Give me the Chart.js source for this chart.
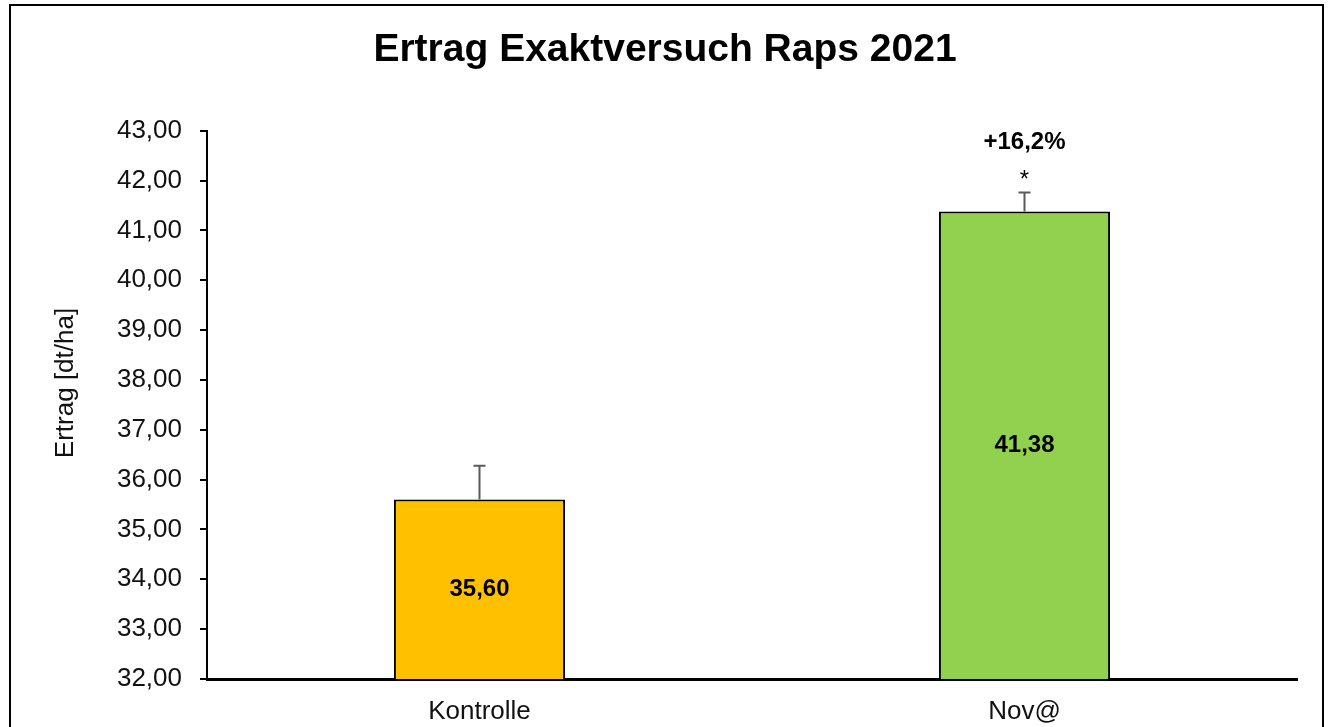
<!DOCTYPE html>
<html>
<head>
<meta charset="utf-8">
<title>Ertrag Exaktversuch Raps 2021</title>
<script src="https://cdn.jsdelivr.net/npm/chart.js@4/dist/chart.umd.min.js"></script>
<style>
  html, body { margin: 0; padding: 0; background: #fff; }
  #wrap { width: 1330px; height: 727px; }
</style>
</head>
<body>
<div id="wrap"><canvas id="chart" width="1330" height="727"></canvas></div>
<script>
// ===== Data =====
const categories = ['Kontrolle', 'Nov@'];
const yieldValues = [35.60, 41.38];
const errorValues = [0.68, 0.38];
const diffLabels = ['', '+16,2%'];
const sigLabels = ['', '*'];
const barColors = ['#FFC000', '#92D050'];
const yMin = 32;
const yMax = 43;

const FONT = '"Liberation Sans", Arial, sans-serif';
const fmt = v => v.toFixed(2).replace('.', ',');

// frame round the whole chart + y axis title
const framePlugin = {
  id: 'frame',
  beforeDraw(chart) {
    const ctx = chart.ctx;
    ctx.save();
    ctx.fillStyle = '#fff';
    ctx.fillRect(0, 0, chart.width, chart.height);
    ctx.strokeStyle = '#000';
    ctx.lineWidth = 2;
    ctx.strokeRect(10, 5, 1313, 800);
    ctx.restore();
  },
  afterDraw(chart) {
    const ctx = chart.ctx;
    ctx.save();
    ctx.translate(66, 383);
    ctx.rotate(-Math.PI / 2);
    ctx.font = '26px ' + FONT;
    ctx.fillStyle = '#111';
    ctx.textAlign = 'center';
    ctx.textBaseline = 'middle';
    ctx.fillText('Ertrag [dt/ha]', 0, 0);
    ctx.restore();
  }
};

// error bars (upper only), value labels and significance notes
const barExtras = {
  id: 'barExtras',
  afterDatasetsDraw(chart) {
    const ctx = chart.ctx;
    const yScale = chart.scales.y;
    const meta = chart.getDatasetMeta(0);
    const baseY = yScale.getPixelForValue(yMin);
    ctx.save();
    meta.data.forEach((bar, i) => {
      const barTop = yScale.getPixelForValue(yieldValues[i]);
      const topY = yScale.getPixelForValue(yieldValues[i] + errorValues[i]);
      // error bar
      ctx.strokeStyle = '#5a5a5a';
      ctx.lineWidth = 2;
      ctx.beginPath();
      ctx.moveTo(bar.x, barTop);
      ctx.lineTo(bar.x, topY);
      ctx.moveTo(bar.x - 6, topY);
      ctx.lineTo(bar.x + 6, topY);
      ctx.stroke();

      // value inside bar
      ctx.fillStyle = '#000';
      ctx.textAlign = 'center';
      ctx.textBaseline = 'middle';
      ctx.font = 'bold 24px ' + FONT;
      ctx.fillText(fmt(yieldValues[i]), bar.x, (barTop + baseY) / 2);

      // notes above
      if (sigLabels[i]) {
        ctx.font = '24px ' + FONT;
        ctx.fillText(sigLabels[i], bar.x, topY - 12);
      }
      if (diffLabels[i]) {
        ctx.font = 'bold 24px ' + FONT;
        ctx.fillText(diffLabels[i], bar.x, topY - 50);
      }
    });
    ctx.restore();
  }
};

new Chart(document.getElementById('chart'), {
  type: 'bar',
  data: {
    labels: categories,
    datasets: [{
      data: yieldValues,
      backgroundColor: barColors,
      borderColor: '#000',
      borderWidth: 2,
      borderSkipped: false,
      barPercentage: 0.314,
      categoryPercentage: 1
    }]
  },
  options: {
    responsive: false,
    animation: false,
    devicePixelRatio: 1,
    layout: { padding: { left: 33, right: 33, top: 0, bottom: 0 } },
    plugins: {
      legend: { display: false },
      tooltip: { enabled: false },
      title: {
        display: true,
        text: 'Ertrag Exaktversuch Raps 2021',
        color: '#000',
        font: { family: FONT, size: 39, weight: 'bold', lineHeight: 1.2 },
        padding: { top: 27, bottom: 57 }
      }
    },
    scales: {
      x: {
        grid: { display: true, drawOnChartArea: false, drawTicks: false },
        border: { display: true, color: '#000', width: 3 },
        ticks: {
          color: '#111',
          font: { family: FONT, size: 26 },
          padding: 17
        },
        afterFit(scale) { scale.height = 48; }
      },
      y: {
        min: yMin,
        max: yMax,
        grid: { drawOnChartArea: false, drawTicks: true, tickLength: 7, color: '#000', lineWidth: 2 },
        border: { display: true, color: '#000', width: 2 },
        ticks: {
          stepSize: 1,
          color: '#111',
          font: { family: FONT, size: 26 },
          padding: 18,
          callback: v => fmt(v)
        },
        afterFit(scale) { scale.width = 174; }
      }
    }
  },
  plugins: [framePlugin, barExtras]
});
</script>
</body>
</html>
